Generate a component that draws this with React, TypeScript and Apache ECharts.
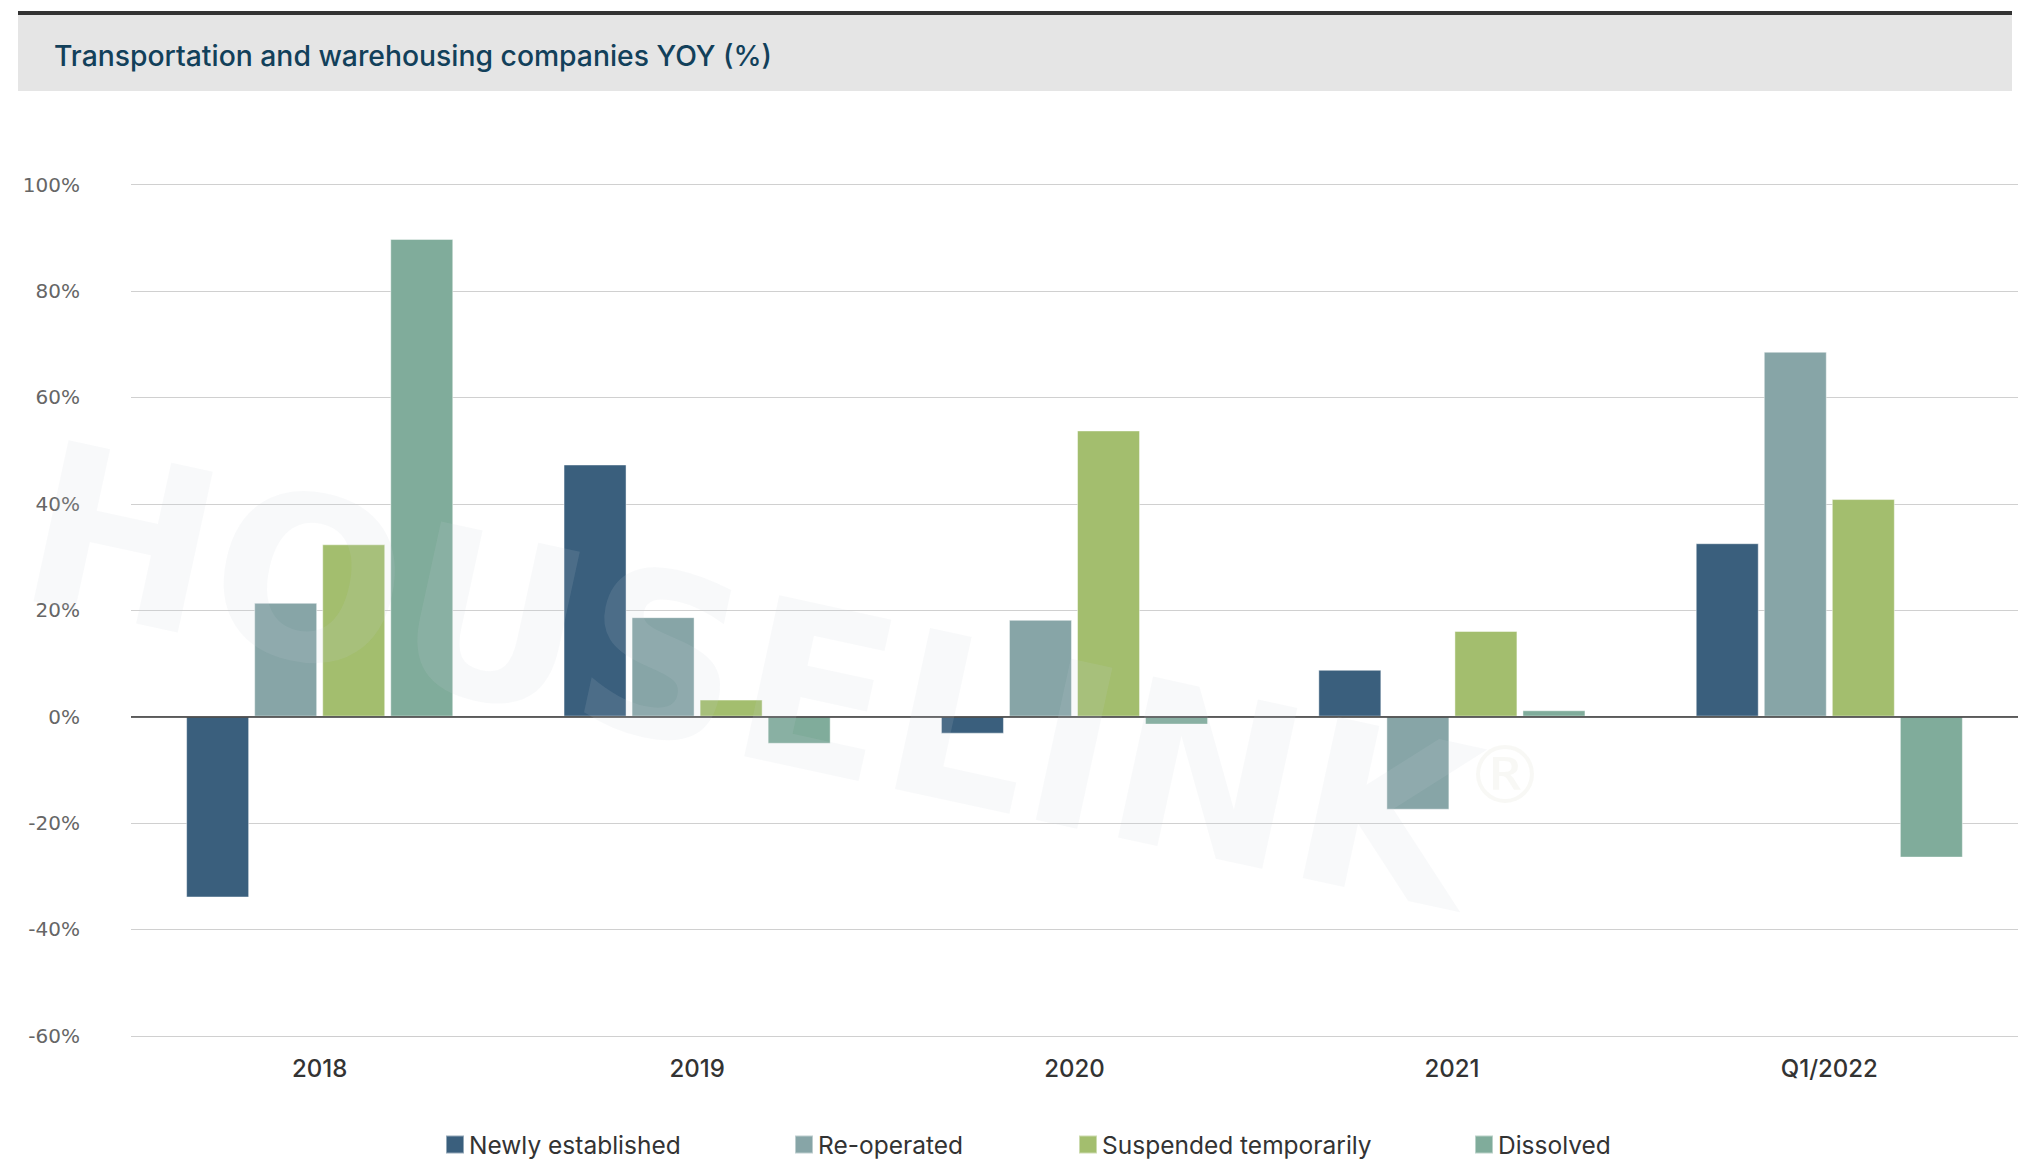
import React, { useEffect, useRef } from "react";
import * as echarts from "echarts";

const categories = ["2018", "2019", "2020", "2021", "Q1/2022"];
const seriesNames = ["Newly established", "Re-operated", "Suspended temporarily", "Dissolved"];
const newlyEstablished = [-34, 47.4, -3.2, 8.8, 32.6];
const reOperated = [21.4, 18.7, 18.2, -17.5, 68.6];
const suspendedTemporarily = [32.4, 3.2, 53.8, 16.1, 40.9];
const dissolved = [89.8, -5.1, -1.5, 1.2, -26.5];
const yMin = -60;
const yMax = 100;
const yInterval = 20;
const titleText = "Transportation and warehousing companies YOY (%)";
const colors = ["#3A5F7D", "#87A5A7", "#A3BE6E", "#80AC9B"];
const legendLefts = [440, 789, 1073, 1469];

export default function App() {
  const ref = useRef<HTMLDivElement>(null);
  useEffect(() => {
    if (!ref.current) return;
    const chart = echarts.init(ref.current, undefined, { renderer: "svg" });
    const allValues = [newlyEstablished, reOperated, suspendedTemporarily, dissolved];
    const series: any[] = allValues.map((vals, i) => ({
      name: seriesNames[i],
      type: "bar",
      data: vals,
      barWidth: 63,
      barGap: "8%",
      itemStyle: { color: colors[i], borderColor: "rgba(255,255,255,0.45)", borderWidth: 1 },
      emphasis: { disabled: true },
    }));
    series[0].markLine = {
      silent: true,
      symbol: "none",
      label: { show: false },
      lineStyle: { color: "#333333", width: 1.5, type: "solid" },
      data: [{ yAxis: 0 }],
      z: 5,
    };
    const legends = seriesNames.map((name, i) => ({
      data: [name],
      left: legendLefts[i],
      top: 1127,
      itemWidth: 18,
      itemHeight: 18,
      icon: "rect",
      selectedMode: false,
      textStyle: { fontFamily: "Inter", fontSize: 24.5, color: "#333333" },
    }));
    chart.setOption({
      animation: false,
      backgroundColor: "#ffffff",
      color: colors,
      grid: { left: 131, right: 7, top: 184.7, bottom: 124.2 },
      graphic: [
        { type: "rect", shape: { x: 18, y: 11, width: 1994, height: 4 }, style: { fill: "#333333" }, z: 1 },
        { type: "rect", shape: { x: 18, y: 15, width: 1994, height: 76 }, style: { fill: "#E5E5E5" }, z: 1 },
        {
          type: "text",
          x: 54,
          y: 56,
          style: {
            text: titleText,
            font: "500 28.3px Inter",
            fill: "#12405A",
            textAlign: "left",
            textVerticalAlign: "middle",
          },
          z: 2,
        },
        {
          type: "text",
          x: 30,
          y: 520,
          rotation: -0.215,
          style: {
            text: "HOUSELINK",
            font: "bold 226px 'DejaVu Sans'",
            fill: "rgba(200,206,216,0.13)",
            textAlign: "left",
            textVerticalAlign: "middle",
          },
          z: 100,
          silent: true,
        },
        {
          type: "text",
          x: 1505,
          y: 775,
          style: {
            text: "®",
            font: "80px 'DejaVu Sans'",
            fill: "rgba(210,210,190,0.15)",
            textAlign: "center",
            textVerticalAlign: "middle",
          },
          z: 100,
          silent: true,
        },
      ],
      legend: legends,
      xAxis: {
        type: "category",
        data: categories,
        axisLine: { show: false },
        axisTick: { show: false },
        axisLabel: {
          margin: 21,
          fontFamily: "Inter",
          fontWeight: 500,
          fontSize: 24,
          color: "#333333",
        },
      },
      yAxis: {
        type: "value",
        min: yMin,
        max: yMax,
        interval: yInterval,
        axisLine: { show: false },
        axisTick: { show: false },
        axisLabel: {
          margin: 51,
          formatter: (v: number) => `${v}%`,
          fontFamily: "DejaVu Sans",
          fontSize: 20,
          color: "#666666",
        },
        splitLine: { lineStyle: { color: "#D0D0D0", width: 1 } },
      },
      series,
    });
    return () => chart.dispose();
  }, []);
  return (
    <div
      ref={ref}
      style={{ position: "absolute", left: 0, top: 0, width: 2025, height: 1160 }}
    />
  );
}
